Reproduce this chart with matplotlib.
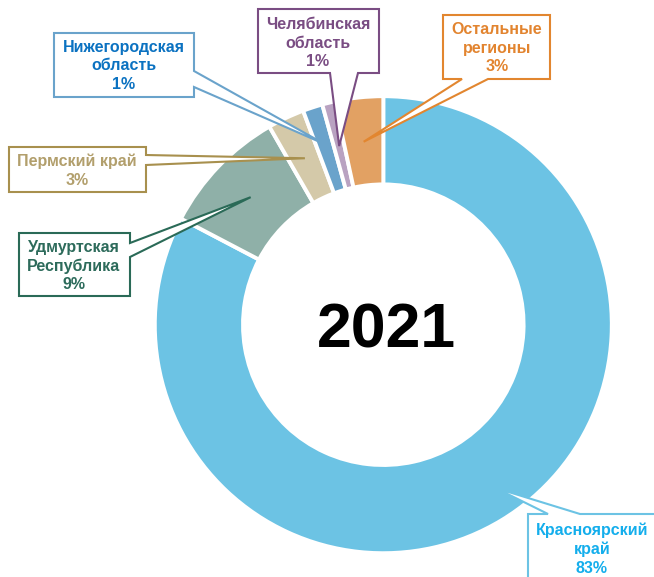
import numpy as np
import matplotlib
matplotlib.use("Agg")
from matplotlib import pyplot as plt
from matplotlib.patches import Polygon

# data
regions = ["Красноярский\nкрай", "Удмуртская\nРеспублика", "Пермский край",
           "Нижегородская\nобласть", "Челябинская\nобласть", "Остальные\nрегионы"]
shares = [82.6, 9.0, 2.6, 1.4, 0.9, 3.4]
year = "2021"

slice_colors = ["#6CC3E4", "#8FB0A8", "#D4C9A9", "#6AA3CB", "#B9A2C1", "#E2A163"]
text_colors = ["#14AEEC", "#2D6B5B", "#B29F6C", "#0B72C1", "#7A4D83", "#E2842F"]
edge_colors = ["#6CC3E4", "#2A6A57", "#A8904E", "#6AA3CB", "#7A4D83", "#E2862F"]

W, H = 654, 577
plt.rcParams['font.family'] = ['Liberation Sans', 'DejaVu Sans']

fig = plt.figure(figsize=(W / 100, H / 100), dpi=100)
ax = fig.add_axes([0, 0, 1, 1])

cx, cy = 383.3, H - 324.7
R, r_in = 228.5, 140.3

wedges, _ = ax.pie(shares, colors=slice_colors, startangle=90, counterclock=False,
                   radius=R, center=(cx, cy),
                   wedgeprops=dict(width=R - r_in, edgecolor="white", linewidth=2.8))
ax.set_xlim(0, W)
ax.set_ylim(0, H)
ax.set_aspect("equal")
ax.axis("off")

ax.text(cx + 3.5, H - 331, year, ha="center", va="center", fontsize=45,
        fontweight="bold", color="black")

# callout layout (pixel coords, y from top): box, side with pointer, pointer base, text centre
boxes = [(528, 514, 660, 590), (19, 233, 130, 296), (9, 147, 146, 192),
         (54, 33, 194, 97), (258, 9, 379, 73), (443, 15, 550, 79)]
sides = ["top", "right", "right", "right", "bottom", "bottom"]
bases = [(548, 580), (243, 257), (155, 165), (71, 87), (330, 358), (462, 488)]
text_pos = [(592, 549), (74, 266), (77, 171), (124, 66), (318, 43), (497, 48)]
tip_r = [198, 184, 184, 190, 184, 184]
tip_shift = [3.3, 0, 0, 0, 0, 0]

for i, w in enumerate(wedges):
    ang = np.deg2rad((w.theta1 + w.theta2) / 2 + tip_shift[i])
    tx = cx + tip_r[i] * np.cos(ang)
    ty = H - (cy + tip_r[i] * np.sin(ang))
    x0, y0, x1, y1 = boxes[i]
    b0, b1 = bases[i]
    if sides[i] == "right":
        pts = [(x0, y0), (x1, y0), (x1, b0), (tx, ty), (x1, b1), (x1, y1), (x0, y1)]
    elif sides[i] == "bottom":
        pts = [(x0, y0), (x1, y0), (x1, y1), (b1, y1), (tx, ty), (b0, y1), (x0, y1)]
    else:
        pts = [(x0, y0), (b0, y0), (tx, ty), (b1, y0), (x1, y0), (x1, y1), (x0, y1)]
    pts = [(px, H - py) for px, py in pts]
    ax.add_patch(Polygon(pts, closed=True, facecolor="white", edgecolor=edge_colors[i],
                         linewidth=1.5, joinstyle="miter", zorder=3))
    label = f"{regions[i]}\n{shares[i]:.0f}%"
    ax.text(text_pos[i][0], H - text_pos[i][1], label, ha="center", va="center",
            fontsize=11.5, fontweight="bold", color=text_colors[i],
            linespacing=1.3, zorder=4)

fig.savefig("out.png", dpi=100)
